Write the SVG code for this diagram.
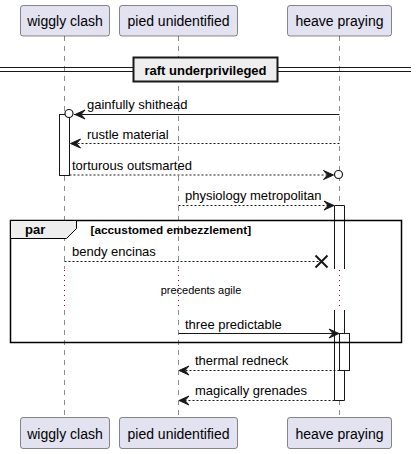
<svg xmlns="http://www.w3.org/2000/svg" width="417" height="454" viewBox="0 0 417 454">
<defs>
<style>
text{font-family:"Liberation Sans",Arial,sans-serif;fill:#000}
.part rect{fill:#E2E2F0;stroke:#181818;stroke-width:0.5}
.part text{font-size:14px;text-anchor:middle}
.life{stroke:#181818;stroke-width:0.5;stroke-dasharray:5,5;fill:none}
.delay{stroke:#A80036;stroke-width:1;stroke-dasharray:1,4;fill:none}
.msg{font-size:13px}
.solid{stroke:#181818;stroke-width:1;fill:none}
.dash{stroke:#181818;stroke-width:1;stroke-dasharray:2,2;fill:none}
.act{fill:#FFFFFF;stroke:#181818;stroke-width:1}
.head{fill:#181818;stroke:#181818;stroke-width:1}
</style>
</defs>
<rect width="417" height="454" fill="#FFFFFF"/>
<g id="lifelines">
<line class="life" x1="64.5" y1="36" x2="64.5" y2="269"/>
<line class="life" x1="64.5" y1="310" x2="64.5" y2="417"/>
<line class="delay" x1="64.5" y1="270" x2="64.5" y2="310"/>
<line class="life" x1="178.5" y1="36" x2="178.5" y2="269"/>
<line class="life" x1="178.5" y1="310" x2="178.5" y2="417"/>
<line class="delay" x1="178.5" y1="270" x2="178.5" y2="310"/>
<line class="life" x1="339.5" y1="36" x2="339.5" y2="269"/>
<line class="life" x1="339.5" y1="310" x2="339.5" y2="417"/>
<line class="delay" x1="339.5" y1="270" x2="339.5" y2="310"/>
</g>
<g id="wiggly-clash" class="part">
<rect x="20.5" y="5.5" width="89" height="30.5" rx="2.5"/>
<text x="65" y="26">wiggly clash</text>
<rect x="20.5" y="417.5" width="89" height="31" rx="2.5"/>
<text x="65" y="438.5">wiggly clash</text>
</g>
<g id="pied-unidentified" class="part">
<rect x="119.5" y="5.5" width="118" height="30.5" rx="2.5"/>
<text x="178.5" y="26">pied unidentified</text>
<rect x="119.5" y="417.5" width="118" height="31" rx="2.5"/>
<text x="178.5" y="438.5">pied unidentified</text>
</g>
<g id="heave-praying" class="part">
<rect x="287.5" y="5.5" width="104" height="30.5" rx="2.5"/>
<text x="339.5" y="26">heave praying</text>
<rect x="287.5" y="417.5" width="104" height="31" rx="2.5"/>
<text x="339.5" y="438.5">heave praying</text>
</g>
<g id="activations">
<rect class="act" x="59.5" y="114.5" width="10" height="61"/>
<rect x="334.5" y="205.5" width="10" height="64" fill="#FFFFFF"/>
<line class="solid" x1="334.5" y1="205.5" x2="344.5" y2="205.5"/>
<line class="solid" x1="334.5" y1="205.5" x2="334.5" y2="269"/>
<line class="solid" x1="344.5" y1="205.5" x2="344.5" y2="269"/>
<rect x="334.5" y="310" width="10" height="90" fill="#FFFFFF"/>
<line class="solid" x1="334.5" y1="310" x2="334.5" y2="400.5"/>
<line class="solid" x1="344.5" y1="310" x2="344.5" y2="400.5"/>
<line class="solid" x1="334.5" y1="400.5" x2="344.5" y2="400.5"/>
<rect class="act" x="339.5" y="333.5" width="10" height="37"/>
</g>
<g id="divider">
<line x1="0" y1="67.5" x2="411" y2="67.5" stroke="#181818" stroke-width="1"/>
<line x1="0" y1="71.5" x2="411" y2="71.5" stroke="#181818" stroke-width="1"/>
<rect x="133.5" y="57.5" width="144" height="24" fill="#EEEEEE" stroke="#181818" stroke-width="2"/>
<text x="205.5" y="74.5" font-size="13" font-weight="bold" text-anchor="middle">raft underprivileged</text>
</g>
<g id="par-frame">
<rect x="10.5" y="220.5" width="391" height="122" fill="none" stroke="#000000" stroke-width="1.5"/>
<path d="M10.5,220.5 H76.5 V228.5 L66.5,238.5 H10.5 Z" fill="#EEEEEE" stroke="#000000" stroke-width="1"/>
<text x="25" y="234" font-size="13" font-weight="bold">par</text>
<text x="90.5" y="233.5" font-size="11.8" font-weight="bold">[accustomed embezzlement]</text>
</g>
<g id="connectors">
<line class="solid" x1="339.5" y1="114.5" x2="74" y2="114.5"/>
<polygon class="head" points="75,114.5 85,110 81,114.5 85,119"/>
<circle cx="69" cy="113.5" r="4" fill="#FFFFFF" stroke="#181818" stroke-width="1.2"/>
<text class="msg" x="87" y="109">gainfully shithead</text>

<line class="dash" x1="339.5" y1="143.5" x2="71" y2="143.5"/>
<polygon class="head" points="70.5,143.5 80.5,139 76.5,143.5 80.5,148"/>
<text class="msg" x="87" y="139">rustle material</text>

<line class="dash" x1="69.5" y1="175" x2="332" y2="175"/>
<polygon class="head" points="333.5,175 323.5,170.5 327.5,175 323.5,179.5"/>
<circle cx="338.5" cy="174.5" r="4" fill="#FFFFFF" stroke="#181818" stroke-width="1.2"/>
<text class="msg" x="72" y="170">torturous outsmarted</text>

<line class="dash" x1="178.5" y1="205.5" x2="333" y2="205.5"/>
<polygon class="head" points="334,205.5 324,201 328,205.5 324,210"/>
<text class="msg" x="185" y="200">physiology metropolitan</text>

<line class="dash" x1="64.5" y1="261.5" x2="320" y2="261.5"/>
<path d="M315.5,255.5 L327.5,267.5 M327.5,255.5 L315.5,267.5" stroke="#181818" stroke-width="2" fill="none"/>
<text class="msg" x="72" y="256">bendy encinas</text>

<text x="201" y="294" font-size="11" text-anchor="middle">precedents agile</text>

<line class="solid" x1="178.5" y1="333.5" x2="338" y2="333.5"/>
<polygon class="head" points="339,333.5 329,329 333,333.5 329,338"/>
<text class="msg" x="185" y="328.5">three predictable</text>

<line class="dash" x1="339.5" y1="370.5" x2="180" y2="370.5"/>
<polygon class="head" points="179,370.5 189,366 185,370.5 189,375"/>
<text class="msg" x="195" y="365">thermal redneck</text>

<line class="dash" x1="334.5" y1="400.5" x2="180" y2="400.5"/>
<polygon class="head" points="179,400.5 189,396 185,400.5 189,405"/>
<text class="msg" x="195" y="395">magically grenades</text>
</g>
</svg>
